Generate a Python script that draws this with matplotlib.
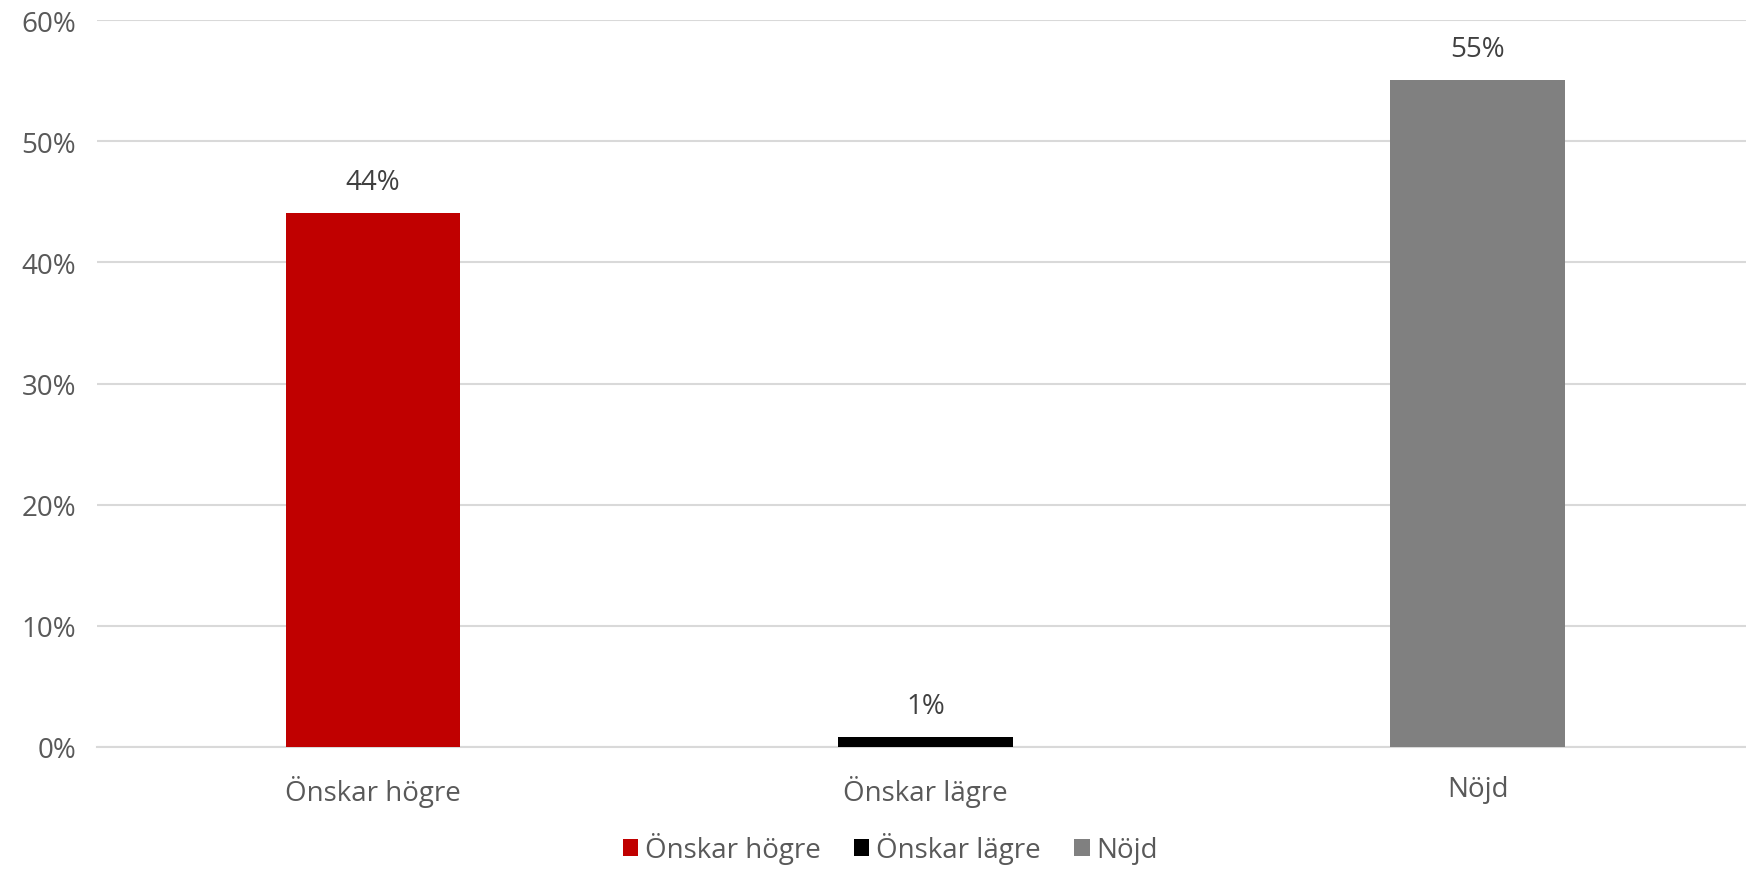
import matplotlib
matplotlib.use("Agg")
from matplotlib import pyplot as plt
from matplotlib.patches import Patch

# data
categories = ["Önskar högre", "Önskar lägre", "Nöjd"]
values = [44.1, 0.8, 55.1]
labels = ["44%", "1%", "55%"]
colors = ["#C00000", "#000000", "#808080"]
yticks = [0, 10, 20, 30, 40, 50, 60]

plt.rcParams["font.family"] = ["Open Sans", "DejaVu Sans"]

fig = plt.figure(figsize=(17.46, 8.70), dpi=100)
ax = fig.add_axes([0.0555, 0.1405, 0.949, 0.835])

x = range(len(categories))
bars = ax.bar(x, values, width=0.316, color=colors, zorder=3)

for b, lab in zip(bars, labels):
    ax.annotate(lab, (b.get_x() + b.get_width() / 2, b.get_height()),
                xytext=(0, 12), textcoords="offset points",
                ha="center", va="bottom", fontsize=20, color="#404040")

ax.set_xlim(-0.5, 2.5)
ax.set_ylim(0, 60)
ax.set_yticks(yticks)
ax.set_yticklabels([f"{t}%" for t in yticks])
ax.set_xticks(list(x))
ax.set_xticklabels(categories)
ax.tick_params(axis="both", length=0, labelsize=20, colors="#595959")
ax.tick_params(axis="y", pad=15)
ax.tick_params(axis="x", pad=20)

ax.yaxis.grid(True, color="#D9D9D9", linewidth=1.5, zorder=0)
for s in ["top", "right", "left"]:
    ax.spines[s].set_visible(False)
ax.spines["bottom"].set_color("#D9D9D9")
ax.spines["bottom"].set_linewidth(1.5)

handles = [Patch(facecolor=c, edgecolor="none") for c in colors]
fig.legend(handles, categories, loc="lower center", bbox_to_anchor=(0.51, -0.023),
           ncol=3, frameon=False, fontsize=20, handlelength=0.55, handleheight=0.55,
           handletextpad=0.25, columnspacing=1.2, labelcolor="#595959")

fig.savefig("out.png", dpi=100)
